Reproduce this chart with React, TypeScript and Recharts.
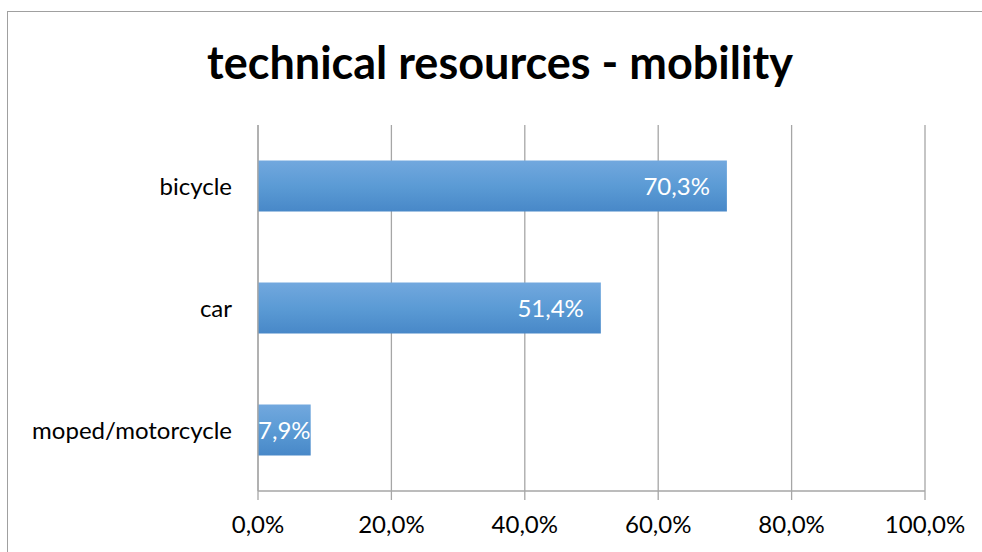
import React from "react";
import { BarChart, Bar, XAxis, YAxis, CartesianGrid, LabelList } from "recharts";

const categories = ["bicycle", "car", "moped/motorcycle"];
const shares = [70.3, 51.4, 7.9];
const xTicks = [0, 20, 40, 60, 80, 100];
const bandTicks = [0, 1, 2, 3];

const data = categories.map((name, i) => ({ name, share: shares[i] }));

const FONT = "Lato, 'Open Sans', sans-serif";
const GRID = "#a6a6a6";
const pct = (v: number) => `${v.toFixed(1).replace(".", ",")}%`;

// Excel puts the value inside the bar end, centred when it does not fit
const ValueLabel = (props: any) => {
  const { x, y, width, height, value } = props;
  const tooSmall = width < 90;
  return (
    <text
      x={tooSmall ? x + width / 2 : x + width - 17}
      y={y + height / 2}
      dy="0.36em"
      textAnchor={tooSmall ? "middle" : "end"}
      fill="#ffffff"
      fontSize={24}
      fontFamily={FONT}
    >
      {pct(value)}
    </text>
  );
};

export default function App() {
  return (
    <div style={{ position: "fixed", left: 0, top: 0, width: 982, height: 552, overflow: "hidden", background: "#fff" }}>
      <div style={{ position: "absolute", left: 7, top: 11, width: 1000, height: 600, border: "1px solid #a0a0a0" }} />
      <div style={{
        position: "absolute", left: 0, top: 36, width: 1000, textAlign: "center",
        fontFamily: FONT, fontWeight: 700, fontSize: 45, color: "#000", lineHeight: "52px",
      }}>
        technical resources - mobility
      </div>
      <div style={{ position: "absolute", left: 0, top: 0 }}>
        <BarChart
          width={982}
          height={552}
          data={data}
          layout="vertical"
          margin={{ top: 125, right: 57, bottom: 0, left: 0 }}
          barCategoryGap="29%"
        >
          <defs>
            <linearGradient id="barFill" x1="0" y1="0" x2="0" y2="1">
              <stop offset="0%" stopColor="#72a8de" />
              <stop offset="50%" stopColor="#5b9bd5" />
              <stop offset="100%" stopColor="#4888c8" />
            </linearGradient>
          </defs>
          <CartesianGrid horizontal={false} stroke={GRID} strokeWidth={1.3} />
          <XAxis
            type="number"
            domain={[0, 100]}
            ticks={xTicks}
            height={61}
            tickFormatter={pct}
            axisLine={{ stroke: GRID, strokeWidth: 1.3 }}
            tickLine={{ stroke: GRID, strokeWidth: 1.3 }}
            tickSize={9}
            tick={{ fontSize: 24, fill: "#000", fontFamily: FONT, dy: 14 }}
          />
          <YAxis
            type="category"
            dataKey="name"
            width={258}
            axisLine={{ stroke: GRID, strokeWidth: 1.3 }}
            tickLine={false}
            tickMargin={20}
            tick={{ fontSize: 24, fill: "#000", fontFamily: FONT }}
          />
          <YAxis
            yAxisId="bands"
            type="number"
            domain={[0, 3]}
            ticks={bandTicks}
            width={0}
            axisLine={false}
            tickSize={8}
            tickLine={{ stroke: GRID, strokeWidth: 1.3 }}
            tick={false}
          />
          <Bar dataKey="share" fill="url(#barFill)" isAnimationActive={false}>
            <LabelList dataKey="share" content={ValueLabel} />
          </Bar>
        </BarChart>
      </div>
    </div>
  );
}
